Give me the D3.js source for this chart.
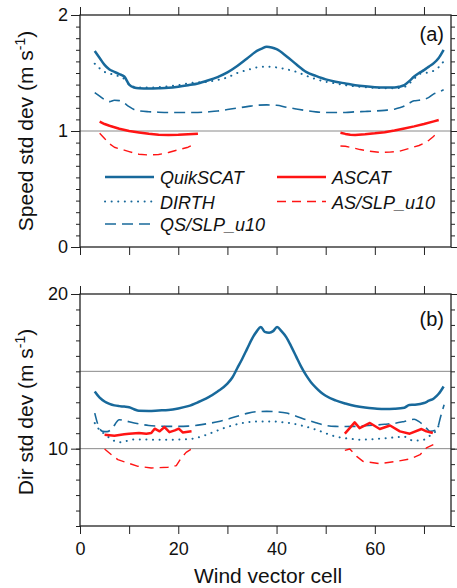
<!DOCTYPE html>
<html>
<head>
<meta charset="utf-8">
<script src="https://cdn.jsdelivr.net/npm/d3@7/dist/d3.min.js"></script>
<style>
    body { margin: 0; background: #fff; }
    text { font-family: "Liberation Sans", Arial, sans-serif; fill: #111; }
</style>
</head>
<body>
<svg id="chart" width="457" height="588"></svg>
<script>
/**
 * Data: [wind vector cell, std dev].
 * A null value breaks a line (swath gap in the middle).
 */
const quikSpeed = [[3,1.69],[4,1.63],[5,1.57],[6,1.53],[7,1.51],[8,1.49],[9,1.47],[10,1.40],[11,1.375],[12,1.368],[14,1.366],[16,1.368],[18,1.372],[20,1.382],[22,1.395],[24,1.41],[26,1.435],[28,1.465],[30,1.505],[32,1.56],[34,1.625],[36,1.69],[37,1.71],[38,1.726],[39,1.72],[40,1.705],[42,1.645],[44,1.575],[46,1.51],[48,1.475],[50,1.445],[52,1.425],[54,1.41],[56,1.395],[58,1.385],[60,1.378],[62,1.375],[64,1.375],[65,1.382],[66,1.395],[67,1.43],[68,1.47],[69,1.50],[70,1.525],[71,1.555],[72,1.585],[73,1.63],[74,1.70]];
const dirthSpeed = [[3,1.58],[4,1.54],[5,1.51],[6,1.495],[7,1.485],[8,1.47],[9,1.45],[10,1.40],[11,1.38],[12,1.375],[14,1.375],[16,1.378],[18,1.385],[20,1.395],[22,1.41],[24,1.42],[26,1.425],[28,1.44],[30,1.462],[32,1.50],[34,1.525],[36,1.548],[38,1.555],[40,1.548],[42,1.532],[44,1.51],[46,1.477],[48,1.447],[50,1.425],[52,1.41],[54,1.395],[56,1.385],[58,1.378],[60,1.372],[62,1.368],[64,1.368],[66,1.38],[68,1.45],[69,1.49],[70,1.50],[71,1.505],[72,1.52],[73,1.55],[74,1.60]];
const qsSlpSpeed = [[3,1.33],[4,1.30],[5,1.27],[6,1.253],[7,1.265],[8,1.262],[9,1.24],[10,1.21],[11,1.185],[12,1.175],[14,1.166],[16,1.162],[18,1.16],[20,1.16],[22,1.16],[24,1.16],[26,1.165],[28,1.172],[30,1.185],[32,1.198],[34,1.21],[36,1.222],[38,1.225],[40,1.222],[42,1.205],[44,1.19],[46,1.176],[48,1.165],[50,1.16],[52,1.16],[54,1.16],[56,1.165],[58,1.168],[60,1.172],[62,1.178],[64,1.188],[65,1.20],[66,1.215],[67,1.24],[68,1.26],[69,1.265],[70,1.272],[71,1.29],[72,1.32],[73,1.335],[74,1.355]];
const ascatSpeed = [[4,1.08],[5,1.06],[6,1.045],[8,1.02],[10,1.0],[12,0.988],[14,0.976],[16,0.968],[18,0.966],[20,0.968],[22,0.973],[24,0.977],[38,null],[53,0.985],[54,0.975],[55,0.968],[56,0.966],[58,0.972],[60,0.98],[62,0.99],[64,1.005],[66,1.022],[68,1.04],[70,1.06],[72,1.083],[73,1.095]];
const asSlpSpeed = [[4,0.98],[5,0.935],[6,0.89],[7,0.86],[8,0.845],[9,0.835],[10,0.822],[11,0.81],[12,0.80],[14,0.793],[16,0.797],[18,0.815],[20,0.838],[22,0.86],[23,0.88],[38,null],[53,0.871],[54,0.868],[55,0.86],[56,0.85],[57,0.84],[59,0.825],[61,0.816],[63,0.818],[65,0.825],[67,0.85],[69,0.875],[70,0.895],[71,0.92],[72,0.955],[72.5,0.985]];

const quikDir = [[3,13.7],[4,13.3],[5,13.05],[6,12.9],[7,12.8],[8,12.75],[9,12.72],[10,12.68],[11,12.55],[12,12.45],[14,12.44],[16,12.47],[18,12.5],[20,12.6],[22,12.75],[24,13.0],[26,13.3],[28,13.7],[30,14.2],[31,14.6],[32,15.2],[33,15.8],[34,16.45],[35,17.1],[36,17.6],[36.8,17.87],[37.6,17.55],[38.5,17.5],[39.3,17.6],[40.1,17.87],[41,17.6],[42,17.2],[43,16.6],[44,15.95],[45,15.3],[46,14.75],[47,14.3],[48,13.95],[49,13.65],[50,13.42],[52,13.12],[54,12.92],[56,12.76],[58,12.66],[60,12.6],[62,12.56],[64,12.58],[66,12.65],[67,12.82],[68,12.84],[70,12.95],[71,13.1],[72,13.25],[73,13.55],[74,14.02]];
const dirthDir = [[3,11.66],[4,11.2],[5,10.95],[6,10.7],[7,10.5],[8,10.42],[9,10.45],[10,10.55],[11,10.6],[13,10.6],[15,10.58],[17,10.57],[19,10.58],[21,10.6],[23,10.65],[25,10.82],[27,11.05],[29,11.3],[31,11.5],[33,11.65],[35,11.74],[37,11.76],[39,11.76],[41,11.72],[43,11.64],[45,11.5],[47,11.33],[49,11.12],[51,10.88],[53,10.72],[55,10.64],[57,10.58],[59,10.6],[61,10.65],[63,10.7],[65,10.76],[66,10.78],[67,10.6],[68,10.52],[69,10.53],[70,10.58],[71,10.8],[72,11.0],[72.6,11.23],[73.2,11.66]];
const qsSlpDir = [[3,12.3],[3.6,11.6],[4.6,11.12],[5.5,11.1],[6.4,11.25],[8,11.87],[9,11.82],[10,11.74],[12,11.6],[14,11.5],[16,11.46],[18,11.44],[20,11.44],[22,11.46],[24,11.52],[26,11.62],[28,11.74],[30,11.9],[32,12.1],[34,12.28],[36,12.39],[38,12.41],[40,12.38],[42,12.3],[44,12.1],[46,11.88],[48,11.68],[50,11.5],[52,11.44],[54,11.43],[56,11.44],[58,11.48],[60,11.52],[62,11.58],[64,11.64],[66,11.76],[68,11.9],[69,11.75],[70.2,11.44],[71.2,11.12],[72.6,11.23],[73.4,12.08],[74.1,12.84]];
const ascatDir = [[5,10.9],[7,10.84],[9,10.93],[10,10.97],[12,11.01],[13.5,10.97],[14.5,11.01],[15.2,11.29],[16.2,11.12],[17.2,11.4],[18.2,11.07],[19.3,11.18],[20.1,11.29],[20.9,11.05],[22.7,11.12],[38,null],[53.9,10.97],[55.9,11.7],[56.9,11.33],[59,11.66],[61,11.27],[63.1,11.5],[65.1,11.12],[67.1,10.97],[69.5,11.27],[70.5,11.12],[71.8,11.01]];
const asSlpDir = [[5,9.98],[6.4,9.61],[7.7,9.29],[9.7,9.08],[11.8,8.86],[14.5,8.75],[17.9,8.8],[19.6,8.9],[20.6,9.4],[21.6,9.76],[22.7,9.98],[38,null],[53.9,9.89],[54.9,9.98],[56.3,9.5],[57.6,9.18],[61,9.03],[64.4,9.18],[67.1,9.33],[69.2,9.61],[70.5,10.05],[71.9,10.26]];

const seriesNames = ['QuikSCAT', 'DIRTH', 'QS/SLP_u10', 'ASCAT', 'AS/SLP_u10'];
const xTickLabels = [0, 20, 40, 60];
const speedTickLabels = [0, 1, 2];
const dirTickLabels = [10, 20];

/**
 * Visual configs.
 */
const blue = '#18699b', red = '#ff1414';
const styles = {
    'QuikSCAT':   { color: blue, width: 2.5, dash: null },
    'DIRTH':      { color: blue, width: 2, dash: '0.1,6.5', cap: 'round' },
    'QS/SLP_u10': { color: blue, width: 1.6, dash: '11,6' },
    'ASCAT':      { color: red,  width: 2.5, dash: null },
    'AS/SLP_u10': { color: red,  width: 1.4, dash: '9,6' }
};

const svg = d3.select('#chart');
const x = d3.scaleLinear().domain([0, 75.5]).range([80, 451]);

const panels = [
    {
        y: d3.scaleLinear().domain([0, 2]).range([247, 15]),
        minor: d3.range(0, 2.001, 0.1), major: speedTickLabels, grid: [1],
        tag: '(a)', tagY: 41, label: 'Speed std dev', labelY: 131,
        data: [quikSpeed, dirthSpeed, qsSlpSpeed, ascatSpeed, asSlpSpeed]
    },
    {
        y: d3.scaleLinear().domain([5, 20]).range([526, 294]),
        minor: d3.range(5, 20.001, 1), major: dirTickLabels, grid: [10, 15],
        tag: '(b)', tagY: 326, label: 'Dir std dev', labelY: 412,
        data: [quikDir, dirthDir, qsSlpDir, ascatDir, asSlpDir]
    }
];

panels.forEach((p, pi) => {
    const g = svg.append('g').attr('class', 'panel');
    const [y0, y1] = p.y.range();

    // Grid lines
    g.selectAll('.grid').data(p.grid).join('line')
        .attr('x1', x.range()[0]).attr('x2', x.range()[1])
        .attr('y1', d => p.y(d)).attr('y2', d => p.y(d))
        .attr('stroke', '#8a8a8a').attr('stroke-width', 1);

    // Series
    const line = d3.line()
        .defined(d => d[1] != null)
        .x(d => x(d[0])).y(d => p.y(d[1]))
        .curve(d3.curveMonotoneX);
    p.data.forEach((d, i) => {
        const s = styles[seriesNames[i]];
        g.append('path').datum(d)
            .attr('d', i >= 3 ? line.curve(d3.curveLinear)(d) : line(d))
            .attr('fill', 'none')
            .attr('stroke', s.color)
            .attr('stroke-width', s.width)
            .attr('stroke-dasharray', s.dash)
            .attr('stroke-linecap', s.cap || 'butt')
            .attr('stroke-linejoin', 'round');
        line.curve(d3.curveMonotoneX);
    });

    // Axes: minor ticks on left/right, x ticks on top/bottom, all pointing out
    const yMinor = g => g.call(a => a.select('.domain').remove()).selectAll('text').remove();
    g.append('g').attr('transform', 'translate(80,0)')
        .call(d3.axisLeft(p.y).tickValues(p.minor).tickSize(4)).call(yMinor);
    g.append('g').attr('transform', 'translate(451,0)')
        .call(d3.axisRight(p.y).tickValues(p.minor).tickSize(4)).call(yMinor);
    g.append('g').attr('transform', 'translate(80,0)')
        .call(d3.axisLeft(p.y).tickValues(p.major).tickSize(9).tickPadding(3).tickFormat(d3.format('d')))
        .call(a => a.select('.domain').remove())
        .call(a => a.selectAll('text').attr('font-size', 18).attr('fill', '#111'));
    g.append('g').attr('transform', 'translate(451,0)')
        .call(d3.axisRight(p.y).tickValues(p.major).tickSize(6).tickFormat(''))
        .call(a => a.select('.domain').remove());

    const xTicks = d3.range(0, 71, 10);
    g.append('g').attr('transform', 'translate(0,' + y1 + ')')
        .call(d3.axisTop(x).tickValues(xTicks).tickSize(8).tickFormat(''))
        .call(a => a.select('.domain').remove());
    g.append('g').attr('transform', 'translate(0,' + y0 + ')')
        .call(d3.axisBottom(x).tickValues(xTicks).tickSize(8).tickPadding(8)
            .tickFormat(d => pi === 1 && xTickLabels.includes(d) ? d : ''))
        .call(a => a.select('.domain').remove())
        .call(a => a.selectAll('text').attr('font-size', 18).attr('fill', '#111'));

    g.selectAll('.tick line').attr('stroke', '#222');

    // Frame
    g.append('rect')
        .attr('x', 80).attr('y', y1)
        .attr('width', 451 - 80).attr('height', y0 - y1)
        .attr('fill', 'none').attr('stroke', '#222').attr('stroke-width', 1.3);

    // Panel tag
    g.append('text').attr('x', 444).attr('y', p.tagY)
        .attr('text-anchor', 'end').attr('font-size', 20).text(p.tag);

    // Y label with superscript
    const lab = g.append('text')
        .attr('transform', 'translate(33,' + p.labelY + ') rotate(-90)')
        .attr('text-anchor', 'middle').attr('font-size', 21);
    lab.append('tspan').text(p.label + ' (m s');
    lab.append('tspan').attr('font-size', 14).attr('dy', -8).text('-1');
    lab.append('tspan').attr('dy', 8).text(')');
});

// Legend
const legendPos = [
    { x: 105, y: 177 }, { x: 105, y: 201.5 }, { x: 105, y: 224 },
    { x: 277, y: 177 }, { x: 277, y: 201.5 }
];
const legend = svg.append('g').attr('class', 'legend');
seriesNames.forEach((name, i) => {
    const s = styles[name], pos = legendPos[i];
    legend.append('line')
        .attr('x1', pos.x).attr('x2', pos.x + 49)
        .attr('y1', pos.y).attr('y2', pos.y)
        .attr('stroke', s.color).attr('stroke-width', s.width)
        .attr('stroke-dasharray', s.dash)
        .attr('stroke-linecap', s.cap || 'butt');
    legend.append('text')
        .attr('x', pos.x + 55).attr('y', pos.y + 7)
        .attr('font-size', 18).attr('font-style', 'italic')
        .text(name);
});

// X axis title
svg.append('text').attr('x', 268).attr('y', 583)
    .attr('text-anchor', 'middle').attr('font-size', 21)
    .text('Wind vector cell');
</script>
</body>
</html>
